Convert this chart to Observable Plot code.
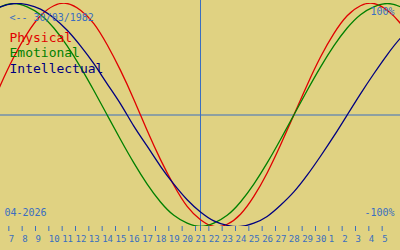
<!DOCTYPE html>
<html>
<head>
<meta charset="utf-8">
<script src="https://cdn.jsdelivr.net/npm/d3@7"></script>
<script src="https://cdn.jsdelivr.net/npm/@observablehq/plot@0.6"></script>
<style>
  html, body { margin: 0; padding: 0; background: #e0d282; }
  #chart svg { display: block; }
</style>
</head>
<body>
<div id="chart"></div>
<script>
// Day positions (day of month, continuing past 30 April into May as 31..37)
const days = [5,6,7,8,9,10,11,12,13,14,15,16,17,18,19,20,21,22,23,24,25,26,27,28,29,30,31,32,33,34,35,36,37];
const physical =     [0,0.27,0.52,0.73,0.89,0.98,1,0.94,0.82,0.63,0.4,0.14,-0.14,-0.4,-0.63,-0.82,-0.94,-1,-0.98,-0.89,-0.73,-0.52,-0.27,0,0.27,0.52,0.73,0.89,0.98,1,0.94,0.82,0.63];
const emotional =    [0.9,0.97,1,0.97,0.9,0.78,0.62,0.43,0.22,0,-0.22,-0.43,-0.62,-0.78,-0.9,-0.97,-1,-0.97,-0.9,-0.78,-0.62,-0.43,-0.22,0,0.22,0.43,0.62,0.78,0.9,0.97,1,0.97,0.9];
const intellectual = [0.91,0.97,1,0.99,0.95,0.87,0.76,0.62,0.46,0.28,0.1,-0.1,-0.28,-0.46,-0.62,-0.76,-0.87,-0.95,-0.99,-1,-0.97,-0.91,-0.81,-0.69,-0.54,-0.37,-0.19,0,0.19,0.37,0.54,0.69,0.81];
const tickDays =   [7,8,9,10,11,12,13,14,15,16,17,18,19,20,21,22,23,24,25,26,27,28,29,30,31,32,33,34,35];
const tickLabels = ["7","8","9","10","11","12","13","14","15","16","17","18","19","20","21","22","23","24","25","26","27","28","29","30","1","2","3","4","5"];
const today = 21;
const birthText = "<-- 30/03/1982";
const monthText = "04-2026";
const topText = "100%";
const bottomText = "-100%";
const seriesNames = ["Physical", "Emotional", "Intellectual"];
const seriesColors = ["#e00000", "#008000", "#000080"];
const xDomain = [6, 36];

const blue = "#3a6ec0";
const mono = "DejaVu Sans Mono, monospace";

const series = [physical, emotional, intellectual].map((vals, s) =>
  days.map((d, i) => ({day: d, value: vals[i], name: seriesNames[s]})));
const labelOf = new Map(tickDays.map((d, i) => [d, tickLabels[i]]));

const chart = Plot.plot({
  width: 400,
  height: 250,
  marginTop: 3,
  marginBottom: 24,
  marginLeft: 0,
  marginRight: 0,
  style: {background: "#e0d282", fontFamily: mono},
  x: {domain: xDomain, axis: null},
  y: {domain: [-1, 1], axis: null},
  marks: [
    Plot.ruleY([0], {stroke: blue, strokeWidth: 1}),
    Plot.ruleX([today], {stroke: blue, strokeWidth: 1, insetTop: -3, insetBottom: -5}),
    ...series.map((data, s) => Plot.line(data, {
      x: "day", y: "value", stroke: seriesColors[s], strokeWidth: 1.3,
      curve: "natural", clip: true
    })),
    Plot.axisX(tickDays, {
      anchor: "bottom", tickSize: 5, tickPadding: 4.5,
      tickFormat: d => labelOf.get(d),
      textAnchor: "start", dx: -5, fontSize: 9, color: blue, fontFamily: mono, label: null
    }),
    Plot.text([birthText], {text: d => d, frameAnchor: "top-left", lineAnchor: "top", dx: 9, dy: 10, fill: blue, fontSize: 10, fontFamily: mono}),
    ...seriesNames.map((n, i) => Plot.text([n], {text: d => d, frameAnchor: "top-left", lineAnchor: "top", dx: 9, dy: 29 + i * 15.5, fill: seriesColors[i], fontSize: 13, fontFamily: mono})),
    Plot.text([topText], {text: d => d, frameAnchor: "top-right", lineAnchor: "top", textAnchor: "end", dx: -6, dy: 4.5, fill: blue, fontSize: 10, fontFamily: mono}),
    Plot.text([bottomText], {text: d => d, frameAnchor: "bottom-right", lineAnchor: "top", textAnchor: "end", dx: -6, dy: -18, fill: blue, fontSize: 10, fontFamily: mono}),
    Plot.text([monthText], {text: d => d, frameAnchor: "bottom-left", lineAnchor: "top", textAnchor: "start", dx: 4, dy: -18, fill: blue, fontSize: 10, fontFamily: mono})
  ]
});
document.getElementById("chart").appendChild(chart);
</script>
</body>
</html>
